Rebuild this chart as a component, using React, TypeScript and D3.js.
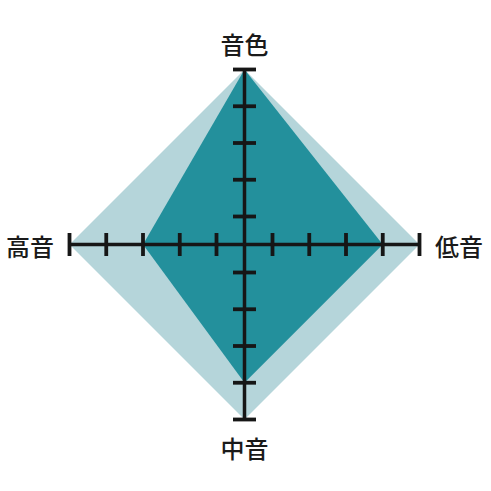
import React from "react";
import * as d3 from "d3";

const axes = ["音色", "低音", "中音", "高音"];
const outerValues = [5, 5, 5, 5];
const innerValues = [5, 4, 4, 3];
const tickValues = [1, 2, 3, 4, 5];

const W = 491;
const H = 491;
const cx = 244.5;
const cy = 244.5;

export default function App() {
  const r = d3.scaleLinear().domain([1, 5]).range([28, 175]);
  const angle = d3
    .scaleBand<string>()
    .domain(axes)
    .range([0, 2 * Math.PI]);

  const pt = (a: string, v: number): [number, number] => {
    const th = angle(a)!;
    return [cx + Math.sin(th) * r(v), cy - Math.cos(th) * r(v)];
  };

  const line = d3.line<[number, number]>().curve(d3.curveLinearClosed);
  const outerPath = line(axes.map((a, i) => pt(a, outerValues[i])))!;
  const innerPath = line(axes.map((a, i) => pt(a, innerValues[i])))!;

  const tickHalf = 11.5;

  return (
    <svg
      width={W}
      height={H}
      style={{ position: "absolute", left: 0, top: 0, background: "#fff" }}
    >
      <path d={outerPath} fill="#b5d5da" />
      <path d={innerPath} fill="#23909c" />
      {axes.map((a) => {
        const th = angle(a)!;
        const [ex, ey] = pt(a, 5);
        const px = Math.cos(th);
        const py = Math.sin(th);
        return (
          <g key={a}>
            <line
              x1={cx}
              y1={cy}
              x2={ex}
              y2={ey}
              stroke="#161616"
              strokeWidth={3.5}
            />
            {tickValues.map((v) => {
              const [tx, ty] = pt(a, v);
              return (
                <line
                  key={v}
                  x1={tx - px * tickHalf}
                  y1={ty - py * tickHalf}
                  x2={tx + px * tickHalf}
                  y2={ty + py * tickHalf}
                  stroke="#161616"
                  strokeWidth={3.8}
                />
              );
            })}
          </g>
        );
      })}
      {axes.map((a) => {
        const th = angle(a)!;
        const horiz = Math.abs(Math.sin(th)) > 0.5;
        const d = horiz ? 214.5 : 202;
        const x = cx + Math.sin(th) * d;
        const y = cy - Math.cos(th) * d + 1;
        return (
          <text
            key={a}
            x={x}
            y={y}
            textAnchor="middle"
            dominantBaseline="central"
            fontFamily="'Noto Sans CJK JP', 'Noto Sans CJK SC', sans-serif"
            fontSize={24}
            fontWeight={500}
            fill="#1a1a1a"
          >
            {a}
          </text>
        );
      })}
    </svg>
  );
}
